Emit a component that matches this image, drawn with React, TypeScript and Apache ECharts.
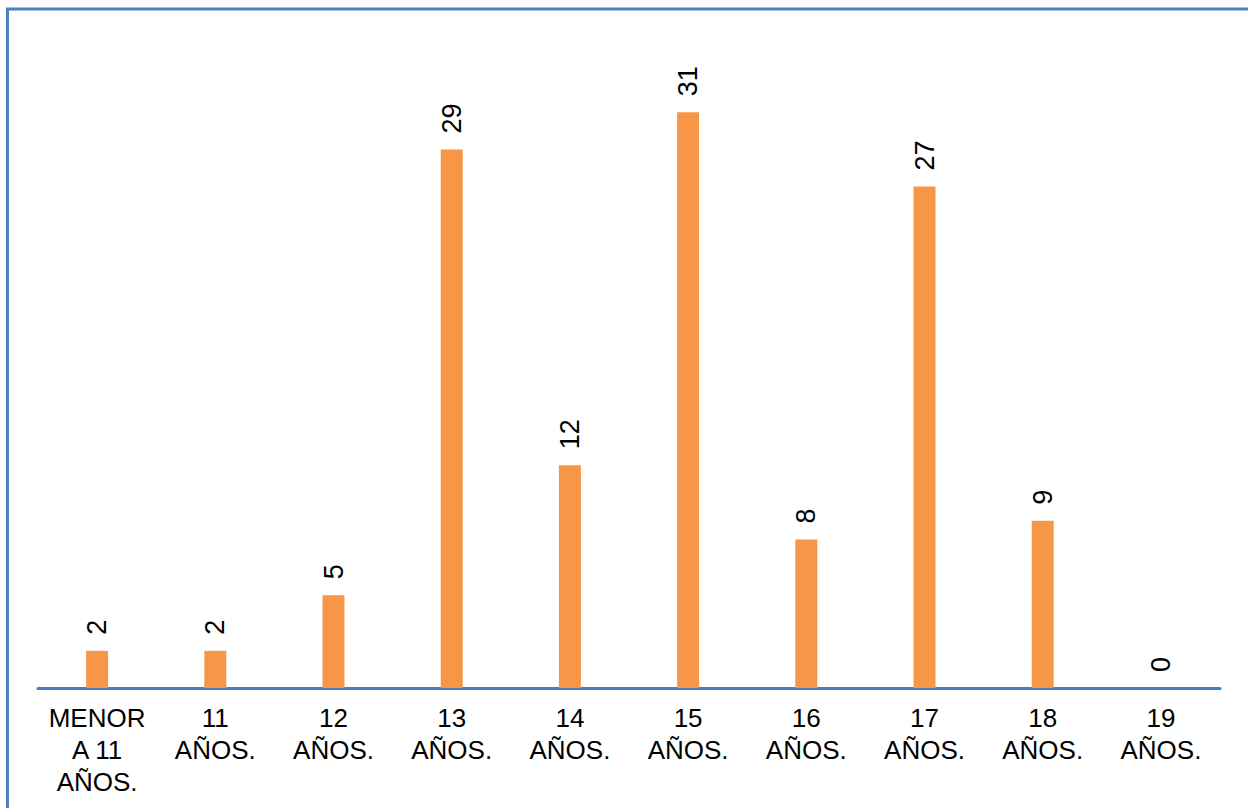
import React, { useEffect, useRef } from "react";
import * as echarts from "echarts";

const categories = [
  "MENOR\nA 11\nAÑOS.",
  "11\nAÑOS.",
  "12\nAÑOS.",
  "13\nAÑOS.",
  "14\nAÑOS.",
  "15\nAÑOS.",
  "16\nAÑOS.",
  "17\nAÑOS.",
  "18\nAÑOS.",
  "19\nAÑOS.",
];
const values = [2, 2, 5, 29, 12, 31, 8, 27, 9, 0];

export default function App() {
  const ref = useRef<HTMLDivElement>(null);
  useEffect(() => {
    if (!ref.current) return;
    const chart = echarts.init(ref.current, undefined, { renderer: "svg" });
    chart.setOption({
      animation: false,
      backgroundColor: "#ffffff",
      textStyle: { fontFamily: "Liberation Sans, Arial, sans-serif" },
      graphic: [
        {
          type: "rect",
          shape: { x: 7.5, y: 9, width: 1400, height: 1000 },
          style: { fill: "none", stroke: "#4F81BD", lineWidth: 3 },
          silent: true,
        },
      ],
      grid: { left: 38, right: 28, top: 38, bottom: 120, containLabel: false },
      xAxis: {
        type: "category",
        data: categories,
        axisLine: { show: true, lineStyle: { color: "#4A7EBB", width: 3 } },
        axisTick: { show: false },
        axisLabel: {
          interval: 0,
          color: "#000000",
          fontSize: 26,
          lineHeight: 32,
          margin: 14,
          fontFamily: "Liberation Sans, Arial, sans-serif",
        },
      },
      yAxis: {
        type: "value",
        min: 0,
        max: 35,
        show: false,
        splitLine: { show: false },
      },
      series: [
        {
          type: "bar",
          data: values,
          barWidth: "18.6%",
          itemStyle: { color: "#F79646" },
          label: {
            show: true,
            position: "top",
            rotate: 90,
            align: "left",
            verticalAlign: "middle",
            distance: 16,
            color: "#000000",
            fontSize: 27,
            fontFamily: "Liberation Sans, Arial, sans-serif",
          },
        },
      ],
    });
    return () => chart.dispose();
  }, []);
  return (
    <div
      ref={ref}
      style={{ position: "fixed", left: 0, top: 0, width: 1248, height: 808 }}
    />
  );
}
